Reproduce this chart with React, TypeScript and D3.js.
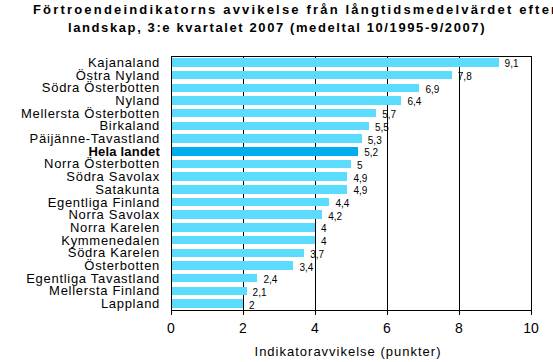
import React from "react";
import * as d3 from "d3";

const categories = [
  "Kajanaland",
  "Östra Nyland",
  "Södra Österbotten",
  "Nyland",
  "Mellersta Österbotten",
  "Birkaland",
  "Päijänne-Tavastland",
  "Hela landet",
  "Norra Österbotten",
  "Södra Savolax",
  "Satakunta",
  "Egentliga Finland",
  "Norra Savolax",
  "Norra Karelen",
  "Kymmenedalen",
  "Södra Karelen",
  "Österbotten",
  "Egentliga Tavastland",
  "Mellersta Finland",
  "Lappland",
];
const values = [9.1, 7.8, 6.9, 6.4, 5.7, 5.5, 5.3, 5.2, 5, 4.9, 4.9, 4.4, 4.2, 4, 4, 3.7, 3.4, 2.4, 2.1, 2];
const xTicks = [0, 2, 4, 6, 8, 10];
const highlight = "Hela landet";
const titleLines = [
  "Förtroendeindikatorns avvikelse från långtidsmedelvärdet efter",
  "landskap, 3:e kvartalet 2007 (medeltal 10/1995-9/2007)",
];
const xTitle = "Indikatoravvikelse (punkter)";

const W = 553;
const H = 362;
const left = 171;
const right = 531;
const top = 56;
const bottom = 310;
const font = "'Liberation Sans', Arial, sans-serif";

export default function App() {
  const x = d3.scaleLinear().domain([0, 10]).range([left, right]);
  const y = d3
    .scaleBand<string>()
    .domain(categories)
    .range([top, bottom])
    .paddingInner(0.33)
    .paddingOuter(0.17);
  const fmt = (v: number) => String(v).replace(".", ",");
  return (
    <svg width={W} height={H} style={{ position: "absolute", left: 0, top: 0, background: "#fff" }}>
      <rect x={0} y={0} width={W} height={H} fill="#fff" />
      <text x={33} y={14} fontFamily={font} fontWeight="bold" fontSize={13} letterSpacing={2.18} fill="#000">
        {titleLines[0]}
      </text>
      <text x={68} y={32} fontFamily={font} fontWeight="bold" fontSize={13} letterSpacing={1.6} fill="#000">
        {titleLines[1]}
      </text>
      {xTicks.slice(1, -1).map((t) => (
        <line key={"g" + t} x1={x(t)} x2={x(t)} y1={top} y2={bottom} stroke="#000" strokeWidth={1} shapeRendering="crispEdges" />
      ))}
      {categories.map((c, i) => (
        <rect
          key={c}
          x={x(0)}
          y={y(c)!}
          width={x(values[i]) - x(0)}
          height={y.bandwidth()}
          fill={c === highlight ? "#00AEEF" : "#5BDCFF"}
          shapeRendering="crispEdges"
        />
      ))}
      <rect x={left} y={top} width={right - left} height={bottom - top} fill="none" stroke="#000" strokeWidth={1} shapeRendering="crispEdges" />
      {xTicks.map((t) => (
        <g key={"t" + t}>
          <line x1={x(t)} x2={x(t)} y1={bottom} y2={bottom + 5} stroke="#000" shapeRendering="crispEdges" />
          <text x={x(t)} y={333} textAnchor="middle" fontFamily={font} fontSize={14} fill="#000">
            {t}
          </text>
        </g>
      ))}
      {categories.map((c, i) => (
        <text
          key={"l" + c}
          x={160}
          y={y(c)! + y.bandwidth() / 2 + 4.5}
          textAnchor="end"
          fontFamily={font}
          fontSize={13}
          letterSpacing={c === highlight ? 0.2 : 0.7}
          fontWeight={c === highlight ? "bold" : "normal"}
          fill="#000"
        >
          {c}
        </text>
      ))}
      {categories.map((c, i) => (
        <text
          key={"v" + c}
          x={x(values[i]) + 6}
          y={y(c)! + y.bandwidth() / 2 + 5}
          fontFamily={font}
          fontSize={10}
          fill="#000"
        >
          {fmt(values[i])}
        </text>
      ))}
      <text x={348} y={356} textAnchor="middle" fontFamily={font} fontSize={13} letterSpacing={1} fill="#000">
        {xTitle}
      </text>
    </svg>
  );
}
